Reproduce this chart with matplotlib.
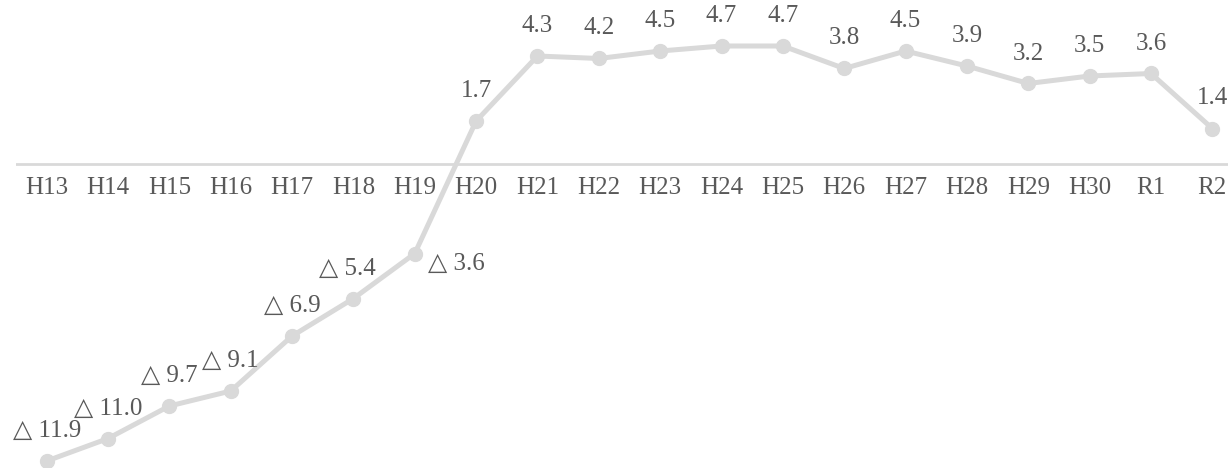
import matplotlib.pyplot as plt
import numpy as np

years = ["H13", "H14", "H15", "H16", "H17", "H18", "H19", "H20", "H21", "H22",
         "H23", "H24", "H25", "H26", "H27", "H28", "H29", "H30", "R1", "R2"]
values = [-11.9, -11.0, -9.7, -9.1, -6.9, -5.4, -3.6, 1.7, 4.3, 4.2,
          4.5, 4.7, 4.7, 3.8, 4.5, 3.9, 3.2, 3.5, 3.6, 1.4]

FONT = ["Liberation Serif", "DejaVu Sans"]
TEXT_COLOR = "#595959"
LINE_COLOR = "#d9d9d9"
FS = 18

W, H = 1228, 468
fig = plt.figure(figsize=(W / 100, H / 100), dpi=100)
# axes runs past the right edge, like the cropped original
left_px, right_px = 16, 1243
ax = fig.add_axes([left_px / W, 0, (right_px - left_px) / W, 1])
ax.set_xlim(-0.5, len(years) - 0.5)
ax.set_ylim(-(H - 163.5) / 25, 163.5 / 25)
ax.axis("off")

x = np.arange(len(years))
ax.axhline(0, color=LINE_COLOR, lw=2, zorder=1)
ax.plot(x, values, color=LINE_COLOR, lw=3.6, marker="o", markersize=10,
        solid_capstyle="round", zorder=2)

# category labels sit just under the zero line
for xi, name in zip(x, years):
    ax.text(xi, -0.98, name, ha="center", va="center", fontsize=FS,
            color=TEXT_COLOR, family=FONT)

for xi, v in zip(x, values):
    label = f"{v:.1f}" if v >= 0 else f"\u25b3 {abs(v):.1f}"
    if years[xi] == "H19":
        ax.annotate(label, (xi, v), xytext=(13, -10), textcoords="offset pixels",
                    ha="left", va="center", fontsize=FS, color=TEXT_COLOR, family=FONT)
    else:
        dx = -6 if years[xi] == "H18" else 0
        ax.annotate(label, (xi, v), xytext=(dx, 30), textcoords="offset pixels",
                    ha="center", va="center", fontsize=FS, color=TEXT_COLOR, family=FONT)

fig.savefig("out.png", dpi=100)
